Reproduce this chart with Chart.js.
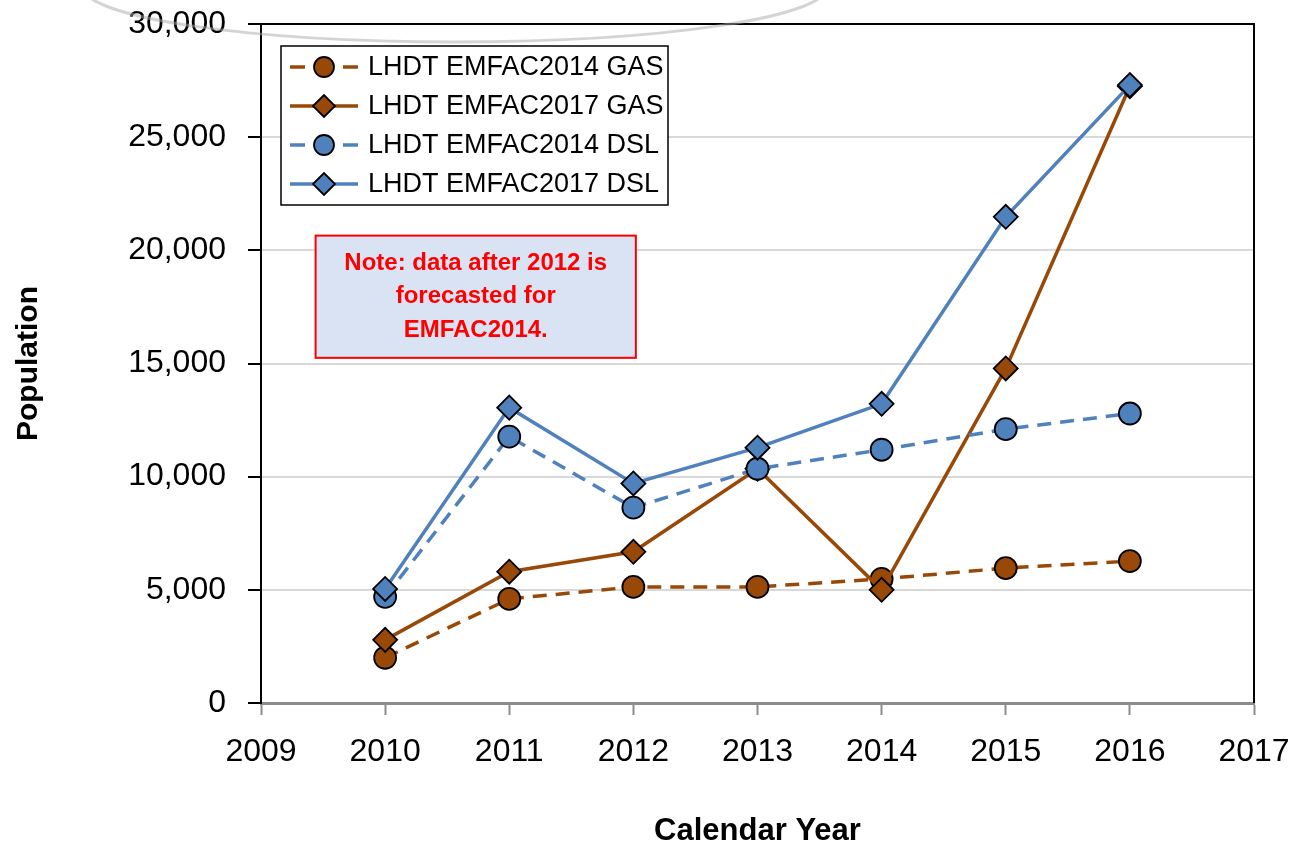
<!DOCTYPE html>
<html>
<head>
<meta charset="utf-8">
<script src="https://cdn.jsdelivr.net/npm/chart.js@4.4.1/dist/chart.umd.min.js"></script>
<style>
  body { margin: 0; background: #fff; }
  #wrap { width: 1297px; height: 850px; }
</style>
</head>
<body>
<div id="wrap"><canvas id="myChart"></canvas></div>
<script>
// data
const years = [2010, 2011, 2012, 2013, 2014, 2015, 2016];
const gas2014 = [2000, 4600, 5130, 5130, 5480, 5960, 6270];
const gas2017 = [2790, 5800, 6680, 10350, 5000, 14780, 27250];
const dsl2014 = [4690, 11770, 8630, 10350, 11190, 12100, 12790];
const dsl2017 = [5040, 13050, 9700, 11280, 13220, 21480, 27300];
const seriesNames = ["LHDT EMFAC2014 GAS", "LHDT EMFAC2017 GAS", "LHDT EMFAC2014 DSL", "LHDT EMFAC2017 DSL"];
const noteLines = ["Note: data after 2012 is", "forecasted for", "EMFAC2014."];

const BROWN = "#984807";
const BLUE = "#4f81bd";
const DASH = [14, 9];

const pts = (arr) => years.map((yr, i) => ({ x: yr, y: arr[i] }));

function makeSet(label, arr, color, dashed, shape, order) {
  return {
    label: label,
    data: pts(arr),
    borderColor: color,
    backgroundColor: color,
    borderWidth: 3.5,
    borderDash: dashed ? DASH : [],
    pointStyle: shape,
    pointRadius: shape === "circle" ? 11 : 12,
    pointBorderColor: "#000",
    pointBorderWidth: 1.8,
    pointBackgroundColor: color,
    tension: 0,
    order: order,
  };
}

const datasets = [
  makeSet(seriesNames[0], gas2014, BROWN, true, "circle", 4),
  makeSet(seriesNames[1], gas2017, BROWN, false, "rectRot", 3),
  makeSet(seriesNames[2], dsl2014, BLUE, true, "circle", 2),
  makeSet(seriesNames[3], dsl2017, BLUE, false, "rectRot", 1),
];

// legend box, note, frame and the faint arc
const extras = {
  id: "extras",
  afterDatasetsDraw(chart) {
    const ctx = chart.ctx;
    const a = chart.chartArea;
    const xs = chart.scales.x, ys = chart.scales.y;

    // frame top / right
    ctx.save();
    ctx.strokeStyle = "#000";
    ctx.lineWidth = 2;
    ctx.beginPath();
    ctx.moveTo(a.left, a.top);
    ctx.lineTo(a.right, a.top);
    ctx.lineTo(a.right, a.bottom);
    ctx.stroke();
    ctx.restore();

    // note box
    const nx0 = xs.getPixelForValue(2009.44), nx1 = xs.getPixelForValue(2012.02);
    const ny0 = ys.getPixelForValue(20650), ny1 = ys.getPixelForValue(15250);
    ctx.save();
    ctx.fillStyle = "#dae3f3";
    ctx.fillRect(nx0, ny0, nx1 - nx0, ny1 - ny0);
    ctx.strokeStyle = "#ff0000";
    ctx.lineWidth = 2;
    ctx.strokeRect(nx0, ny0, nx1 - nx0, ny1 - ny0);
    ctx.fillStyle = "#ff0000";
    ctx.font = "bold 24px 'Liberation Sans', Arial, sans-serif";
    ctx.textAlign = "center";
    ctx.textBaseline = "middle";
    const cx = (nx0 + nx1) / 2, cy = (ny0 + ny1) / 2;
    noteLines.forEach((t, i) => ctx.fillText(t, cx, cy + (i - 1) * 33.5));
    ctx.restore();

    // legend
    const lx = a.left + 20, ly = a.top + 22, lw = 387, lh = 159;
    ctx.save();
    ctx.fillStyle = "#fff";
    ctx.fillRect(lx, ly, lw, lh);
    ctx.strokeStyle = "#000";
    ctx.lineWidth = 1.5;
    ctx.strokeRect(lx, ly, lw, lh);
    chart.data.datasets.forEach((ds, i) => {
      const y = ly + 21 + i * 39;
      const x0 = lx + 9, x1 = lx + 77, mx = lx + 43;
      ctx.strokeStyle = ds.borderColor;
      ctx.lineWidth = ds.borderWidth;
      ctx.beginPath();
      if (ds.borderDash.length) {
        ctx.moveTo(x0, y); ctx.lineTo(x0 + 15, y);
        ctx.moveTo(x1 - 15, y); ctx.lineTo(x1, y);
      } else {
        ctx.moveTo(x0, y); ctx.lineTo(x1, y);
      }
      ctx.stroke();
      ctx.fillStyle = ds.pointBackgroundColor;
      ctx.strokeStyle = ds.pointBorderColor;
      ctx.lineWidth = ds.pointBorderWidth;
      Chart.helpers.drawPoint(ctx, { pointStyle: ds.pointStyle, radius: ds.pointStyle === "circle" ? 10 : 11, rotation: 0, borderWidth: ds.pointBorderWidth }, mx, y);
      ctx.fillStyle = "#000";
      ctx.font = "27px 'Liberation Sans', Arial, sans-serif";
      ctx.textAlign = "left";
      ctx.textBaseline = "middle";
      ctx.fillText(ds.label, lx + 87, y + 1);
    });
    ctx.restore();
  },
  afterDraw(chart) {
    // faint grey arc at the top of the picture
    const ctx = chart.ctx;
    ctx.save();
    ctx.strokeStyle = "rgba(170,170,170,0.5)";
    ctx.lineWidth = 3;
    ctx.beginPath();
    ctx.ellipse(455, -13, 372, 55, 0, 0, Math.PI);
    ctx.stroke();
    ctx.restore();
  },
};

const config = {
  type: "line",
  data: { datasets: datasets },
  options: {
    responsive: true,
    maintainAspectRatio: false,
    animation: false,
    layout: { padding: { left: 0, right: 43, top: 24, bottom: 0 } },
    plugins: { legend: { display: false }, tooltip: { enabled: false } },
    scales: {
      x: {
        type: "linear",
        min: 2009,
        max: 2017,
        afterFit: (s) => { s.height = 147; s.paddingLeft = 0; s.paddingRight = 0; },
        ticks: {
          stepSize: 1,
          color: "#000",
          padding: 18,
          font: { family: "'Liberation Sans', Arial, sans-serif", size: 32 },
          callback: (v) => String(v),
        },
        grid: { drawOnChartArea: false, drawTicks: true, tickLength: 12, tickColor: "#8c8c8c", tickWidth: 2 },
        border: { color: "#8c8c8c", width: 3 },
        title: {
          display: true,
          text: "Calendar Year",
          color: "#000",
          font: { family: "'Liberation Sans', Arial, sans-serif", size: 31, weight: "bold" },
          padding: { top: 0, bottom: 0 },
        },
      },
      y: {
        min: 0,
        max: 30000,
        afterFit: (s) => { s.width = 261; s.paddingTop = 0; s.paddingBottom = 0; },
        ticks: {
          stepSize: 5000,
          color: "#000",
          padding: 22,
          font: { family: "'Liberation Sans', Arial, sans-serif", size: 32 },
          callback: (v) => v.toLocaleString("en-US"),
        },
        grid: { color: "#d9d9d9", lineWidth: 2, tickLength: 13, tickColor: "#000", tickWidth: 2 },
        border: { color: "#000", width: 2 },
        title: {
          display: true,
          text: "Population",
          color: "#000",
          font: { family: "'Liberation Sans', Arial, sans-serif", size: 30, weight: "bold" },
          padding: { top: 11, bottom: 0 },
        },
      },
    },
  },
  plugins: [extras],
};

const myChart = new Chart(document.getElementById("myChart"), config);
</script>
</body>
</html>
